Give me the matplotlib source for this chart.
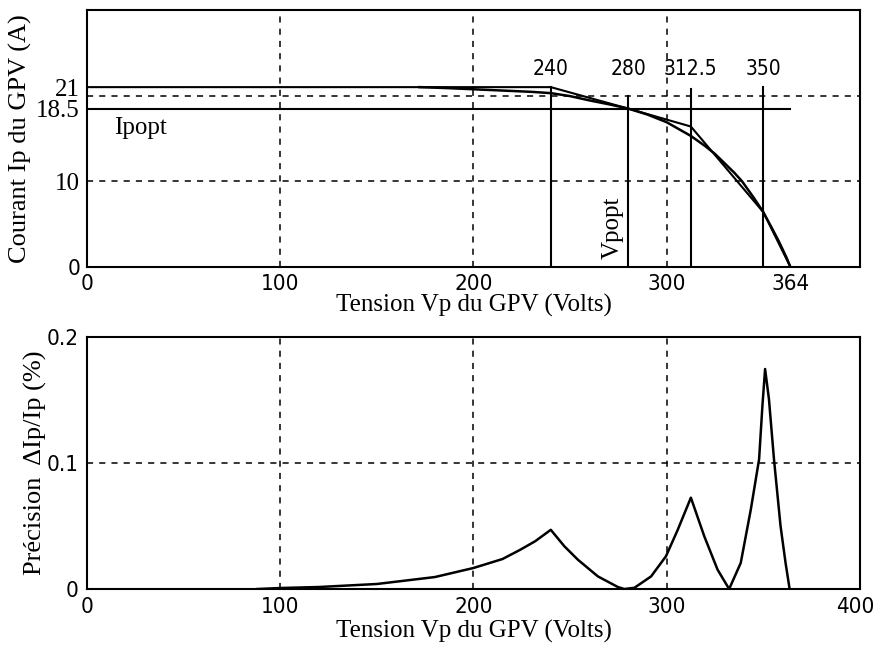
import matplotlib
matplotlib.use("Agg")
import matplotlib.pyplot as plt
from matplotlib import font_manager
from matplotlib.transforms import ScaledTranslation

# ---- I-V characteristic of the PV generator (measured curve) ----
v_curve = [172, 185, 200, 210, 220, 230, 240, 250, 260, 270, 280, 290, 300,
           312.5, 320, 325, 330, 335, 339, 345, 350, 355, 358, 362, 364]
i_curve = [21.0, 20.9, 20.75, 20.65, 20.55, 20.45, 20.3, 19.95, 19.45, 19.0,
           18.5, 17.8, 16.9, 15.3, 14.1, 13.2, 12.1, 11.0, 10.0, 8.1, 6.4,
           4.3, 3.0, 1.1, 0.0]

# ---- piecewise-linear approximation ----
v_approx = [0, 240, 280, 312.5, 350, 364]
i_approx = [21.0, 21.0, 18.5, 16.4, 6.4, 0.0]

# optimal operating point and segment boundaries
i_popt = 18.5
v_breaks = [240, 280, 312.5, 350]
v_break_tops = [21.0, 20.0, 20.8, 21.0]
v_break_labels = ["240", "280", "312.5", "350"]

top_xticks = [0, 100, 200, 300, 364]
top_yticks = [0, 10, 18.5, 21]
top_ytick_labels = ["0", "10", "18.5", "21"]

# ---- relative error of the approximation ----
v_err = [88, 100, 120, 150, 180, 200, 215, 224, 232, 240, 247, 254, 264.4,
         274.7, 278, 283.3, 291.9, 299.6, 305.7, 312.5, 319.4, 326.3, 332.3,
         338.3, 343.5, 347.8, 349.5, 350.9, 352.9, 355.5, 358.9, 361.5, 363.6]
err = [0.0, 0.0008, 0.0016, 0.004, 0.0095, 0.0167, 0.0238, 0.031, 0.038,
       0.047, 0.034, 0.0233, 0.010, 0.0016, 0.0, 0.001, 0.010, 0.026, 0.047,
       0.0725, 0.042, 0.0154, 0.0, 0.0207, 0.063, 0.103, 0.145, 0.1746,
       0.1507, 0.103, 0.050, 0.0207, 0.0]

bottom_xticks = [0, 100, 200, 300, 400]
bottom_yticks = [0, 0.1, 0.2]
bottom_ytick_labels = ["0", "0.1", "0.2"]

SERIF = ["Liberation Serif", "DejaVu Serif"]
_installed = {f.name for f in font_manager.fontManager.ttflist}
NARROW = [f for f in ("DejaVu Sans Condensed", "Liberation Sans Narrow")
          if f in _installed] + ["DejaVu Sans"]
NARROW_STRETCH = "condensed"
TICK_FS = 16
BREAK_FS = 15
SERIF_TICK_FS = 18
XLABEL_FS = 18
YLABEL_FS = 19

fig = plt.figure(figsize=(8.76, 6.47), dpi=100)
ax1 = fig.add_axes([0.0993, 0.5873, 0.8824, 0.3972])
ax2 = fig.add_axes([0.0993, 0.0896, 0.8824, 0.3895])

dash = (0, (4, 4))


def narrow(lbl, size=TICK_FS):
    lbl.set_family(NARROW)
    lbl.set_stretch(NARROW_STRETCH)
    lbl.set_fontsize(size)


# ---------------- top panel ----------------
ax1.set_xlim(0, 400)
ax1.set_ylim(0, 30)
for gx in (100, 200, 300):
    ax1.axvline(gx, color="black", lw=1.1, ls=dash, zorder=1)
for gy in (10, 20):
    ax1.axhline(gy, color="black", lw=1.1, ls=dash, zorder=1)

ax1.plot(v_approx, i_approx, color="black", lw=1.5, zorder=3)
ax1.plot(v_curve, i_curve, color="black", lw=1.8, zorder=3)
ax1.plot([0, 364], [i_popt, i_popt], color="black", lw=1.5, zorder=2)
for vb, top, lab in zip(v_breaks, v_break_tops, v_break_labels):
    ax1.plot([vb, vb], [0, top], color="black", lw=1.5, zorder=2)
    t = ax1.text(vb, 21.9, lab, ha="center", va="bottom")
    narrow(t, BREAK_FS)

ax1.text(14, 16.2, "Ipopt", fontsize=18, family=SERIF, va="center")
ax1.text(272, 4.6, "Vpopt", fontsize=18, family=SERIF, rotation=90,
         ha="center", va="center")

ax1.set_xticks(top_xticks)
ax1.set_xticklabels([str(t) for t in top_xticks])
for lbl in ax1.get_xticklabels():
    narrow(lbl)
ax1.set_yticks(top_yticks)
ax1.set_yticklabels(top_ytick_labels)
for lbl in ax1.get_yticklabels():
    if lbl.get_text() == "0":
        narrow(lbl)
    else:
        lbl.set_family(SERIF)
        lbl.set_fontsize(SERIF_TICK_FS)
ax1.tick_params(length=0, pad=5)
ax1.set_xlabel("Tension Vp du GPV (Volts)", family=SERIF, fontsize=XLABEL_FS,
               labelpad=0)
ax1.set_ylabel("Courant Ip du GPV (A)", family=SERIF, fontsize=YLABEL_FS,
               labelpad=3)

# ---------------- bottom panel ----------------
ax2.set_xlim(0, 400)
ax2.set_ylim(0, 0.2)
for gx in (100, 200, 300):
    ax2.axvline(gx, color="black", lw=1.1, ls=dash, zorder=1)
ax2.axhline(0.1, color="black", lw=1.1, ls=dash, zorder=1)
ax2.plot(v_err, err, color="black", lw=1.8, zorder=3)

ax2.set_xticks(bottom_xticks)
ax2.set_xticklabels([str(t) for t in bottom_xticks])
ax2.set_yticks(bottom_yticks)
ax2.set_yticklabels(bottom_ytick_labels)
for lbl in ax2.get_xticklabels() + ax2.get_yticklabels():
    narrow(lbl)
ax2.tick_params(length=0, pad=6)
# keep the last x label inside the figure
last = ax2.get_xticklabels()[-1]
last.set_transform(last.get_transform()
                   + ScaledTranslation(-5 / 100, 0, fig.dpi_scale_trans))
ax2.set_xlabel("Tension Vp du GPV (Volts)", family=SERIF, fontsize=XLABEL_FS,
               labelpad=2)
ax2.set_ylabel("Précision  ΔIp/Ip (%)", family=SERIF, fontsize=YLABEL_FS,
               labelpad=0)

for ax in (ax1, ax2):
    for sp in ax.spines.values():
        sp.set_linewidth(1.5)

fig.savefig("out.png", dpi=100)
